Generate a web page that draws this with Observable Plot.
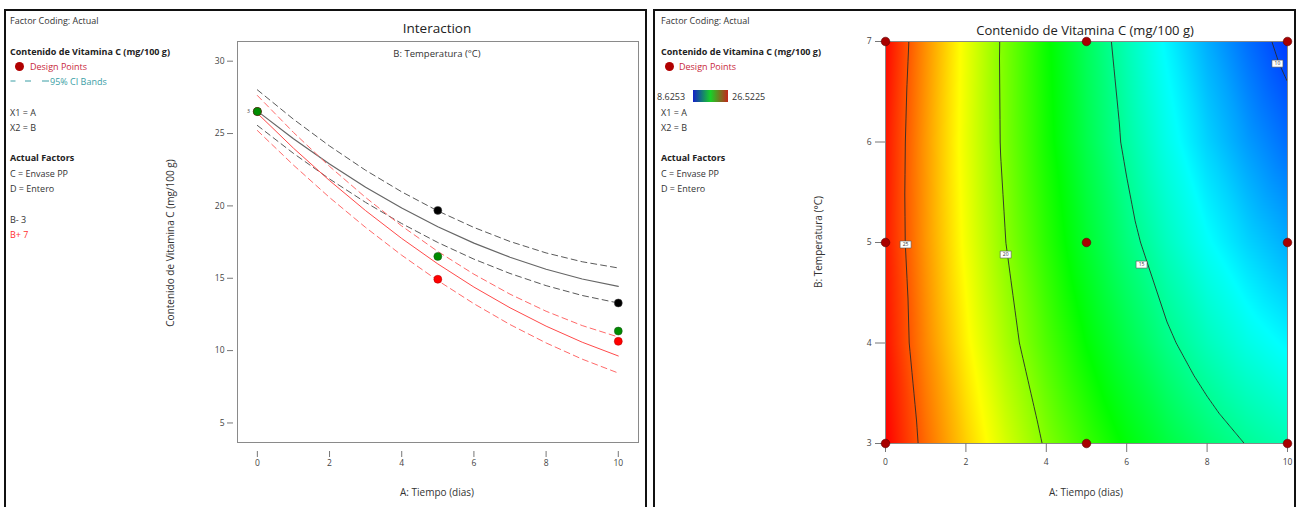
<!DOCTYPE html>
<html>
<head>
<meta charset="utf-8">
<script src="https://cdn.jsdelivr.net/npm/d3@7"></script>
<script src="https://cdn.jsdelivr.net/npm/@observablehq/plot@0.6"></script>
<style>
  body { margin: 0; background: #fff; font-family: "Open Sans", "Noto Sans", sans-serif; }
  #page { position: relative; width: 1305px; height: 507px; overflow: hidden; background: #fff; }
  .panel { position: absolute; border: 2px solid #111; box-sizing: border-box; background: transparent; pointer-events: none; }
  .t { position: absolute; white-space: nowrap; font-size: 9px; color: #333; line-height: 1; transform: translateY(-50%); }
  .b { font-weight: bold; color: #222; }
  .c { position: absolute; white-space: nowrap; transform: translate(-50%, -50%); line-height: 1; color: #333; }
  .r { position: absolute; white-space: nowrap; transform: translate(-50%, -50%) rotate(-90deg); line-height: 1; color: #333; }
  .plot { position: absolute; top: 0; }
  .dot { position: absolute; width: 9px; height: 9px; border-radius: 50%; background: #b00000; }
</style>
</head>
<body>
<div id="page">
  <!-- left panel legend -->
  <div class="t" style="left:10px;top:20px;">Factor Coding: Actual</div>
  <div class="t b" style="left:10px;top:51px;">Contenido de Vitamina C (mg/100 g)</div>
  <div class="dot" style="left:14.5px;top:61.5px;"></div>
  <div class="t" style="left:30px;top:66px;color:#c8283c;">Design Points</div>
  <svg style="position:absolute;left:0;top:76px;" width="60" height="10"><g stroke="#3a9ea5" stroke-width="1"><line x1="10.5" x2="15.5" y1="5" y2="5"/><line x1="25" x2="31" y1="5" y2="5"/><line x1="42" x2="49" y1="5" y2="5"/></g></svg>
  <div class="t" style="left:50px;top:81px;color:#3a9ea5;">95% CI Bands</div>
  <div class="t" style="left:10px;top:112px;">X1 = A</div>
  <div class="t" style="left:10px;top:127px;">X2 = B</div>
  <div class="t b" style="left:10px;top:157px;">Actual Factors</div>
  <div class="t" style="left:10px;top:173px;">C = Envase PP</div>
  <div class="t" style="left:10px;top:188px;">D = Entero</div>
  <div class="t" style="left:10px;top:219px;">B- 3</div>
  <div class="t" style="left:10px;top:234px;color:#ff3030;">B+ 7</div>

  <div class="c" style="left:437px;top:29px;font-size:13.5px;color:#222;">Interaction</div>
  <div class="c" style="left:437px;top:54px;font-size:9.5px;">B: Temperatura (°C)</div>
  <div class="c" style="left:437px;top:492px;font-size:10px;">A: Tiempo (dias)</div>
  <div class="r" style="left:170px;top:243px;font-size:10px;">Contenido de Vitamina C (mg/100 g)</div>

  <!-- right panel legend -->
  <div class="t" style="left:661px;top:20px;">Factor Coding: Actual</div>
  <div class="t b" style="left:661px;top:51px;">Contenido de Vitamina C (mg/100 g)</div>
  <div class="dot" style="left:664.5px;top:61.5px;"></div>
  <div class="t" style="left:679px;top:66px;color:#c8283c;">Design Points</div>
  <div class="t" style="left:657px;top:96px;">8.6253</div>
  <div style="position:absolute;left:693px;top:90px;width:35px;height:12px;background:linear-gradient(to right,#1420c8,#18d028 50%,#c4261a);"></div>
  <div class="t" style="left:732px;top:96px;">26.5225</div>
  <div class="t" style="left:661px;top:112px;">X1 = A</div>
  <div class="t" style="left:661px;top:127px;">X2 = B</div>
  <div class="t b" style="left:661px;top:157px;">Actual Factors</div>
  <div class="t" style="left:661px;top:173px;">C = Envase PP</div>
  <div class="t" style="left:661px;top:188px;">D = Entero</div>

  <div class="c" style="left:1085px;top:30px;font-size:13px;color:#222;">Contenido de Vitamina C (mg/100 g)</div>
  <div class="c" style="left:1086px;top:492px;font-size:10px;">A: Tiempo (dias)</div>
  <div class="r" style="left:818px;top:242px;font-size:10px;">B: Temperatura (°C)</div>

  <div id="left" class="plot" style="left:0px;"></div>
  <div id="right" class="plot" style="left:654px;"></div>

  <div class="panel" style="left:4px;top:9px;width:643px;height:520px;"></div>
  <div class="panel" style="left:653px;top:9px;width:643px;height:520px;"></div>
</div>
<script>
// ---------- DATA ----------
// A: Tiempo (dias)
const tiempo = [0, 1, 2, 3, 4, 5, 6, 7, 8, 9, 10];
// Interaction plot: predicted Vitamina C (mg/100 g) and 95% CI bands
const predB3  = [26.55, 24.64, 22.89, 21.29, 19.85, 18.56, 17.43, 16.45, 15.62, 14.95, 14.44];
const upperB3 = [28.02, 25.99, 24.14, 22.46, 20.97, 19.65, 18.51, 17.54, 16.75, 16.14, 15.71];
const lowerB3 = [25.56, 23.63, 21.86, 20.24, 18.78, 17.47, 16.32, 15.33, 14.49, 13.81, 13.29];
const predB7  = [26.40, 23.99, 21.75, 19.67, 17.75, 15.99, 14.39, 12.96, 11.69, 10.58, 9.63];
const upperB7 = [27.63, 25.08, 22.73, 20.58, 18.61, 16.85, 15.28, 13.90, 12.72, 11.73, 10.94];
const lowerB7 = [25.21, 22.82, 20.58, 18.51, 16.59, 14.84, 13.24, 11.80, 10.53, 9.41, 8.45];
// Design points on the interaction plot
const ptTiempo = [0, 5, 10];
const ptB3     = [26.52, 19.69, 13.29];
const ptB7     = [26.52, 14.93, 10.64];
const ptCentro = [26.52, 16.51, 11.35];
// Contour plot: B: Temperatura levels and response surface rows
const temperatura = [3, 4, 5, 6, 7];
const surface = [
  [26.55, 24.64, 22.89, 21.29, 19.85, 18.56, 17.43, 16.45, 15.62, 14.95, 14.44],
  [26.22, 24.15, 22.25, 20.52, 18.95, 17.54, 16.30, 15.21, 14.30, 13.55, 12.96],
  [26.08, 23.88, 21.85, 19.99, 18.30, 16.77, 15.41, 14.22, 13.20, 12.35, 11.66],
  [26.14, 23.83, 21.68, 19.71, 17.90, 16.25, 14.78, 13.47, 12.33, 11.36, 10.55],
  [26.40, 23.99, 21.75, 19.67, 17.75, 15.99, 14.39, 12.96, 11.69, 10.58, 9.63]
];
const designA = [0, 0, 0, 5, 5, 5, 10, 10, 10];
const designB = [3, 5, 7, 3, 5, 7, 3, 5, 7];
const contourLevels = [25, 20, 15, 10];
const labelA = [0.5, 2.99, 6.37, 9.75];
const labelB = [4.98, 4.88, 4.78, 6.78];
const colorMin = 8.6253, colorMax = 26.5225;
const xTicks = [0, 2, 4, 6, 8, 10];
const yTicksLeft = [5, 10, 15, 20, 25, 30];
const yTicksRight = [3, 4, 5, 6, 7];

// ---------- TABLES ----------
const series = (vals) => tiempo.map((a, i) => ({A: a, v: vals[i]}));
const pts = (vals) => ptTiempo.map((a, i) => ({A: a, v: vals[i]}));
const grid = [];
temperatura.forEach((b, j) => tiempo.forEach((a, i) => grid.push({A: a, B: b, v: surface[j][i]})));
const design = designA.map((a, i) => ({A: a, B: designB[i]}));
const labels = contourLevels.map((l, i) => ({A: labelA[i], B: labelB[i], t: String(l)}));

const font = {background: "transparent", fontFamily: "Open Sans, Noto Sans, sans-serif", fontSize: "8.5px"};

const leftPlot = Plot.plot({
  width: 647, height: 507,
  marginLeft: 237, marginRight: 9, marginTop: 41, marginBottom: 65,
  style: font,
  x: {domain: [-0.55, 10.56], label: null},
  y: {domain: [3.65, 31.36], label: null},
  marks: [
    Plot.frame({stroke: "#8a8a8a"}),
    Plot.axisX(xTicks, {tickSize: 6, dy: 9, tickPadding: 2, stroke: "#777", fill: "#444", tickFormat: "d", label: null}),
    Plot.axisY(yTicksLeft, {tickSize: 6, dx: -4, tickPadding: 3, stroke: "#777", fill: "#444", tickFormat: "d", label: null}),
    Plot.line(series(upperB3), {x: "A", y: "v", stroke: "#5a5a5a", strokeWidth: 1, strokeDasharray: "6,4"}),
    Plot.line(series(lowerB3), {x: "A", y: "v", stroke: "#5a5a5a", strokeWidth: 1, strokeDasharray: "6,4"}),
    Plot.line(series(predB3), {x: "A", y: "v", stroke: "#666", strokeWidth: 1.2}),
    Plot.line(series(upperB7), {x: "A", y: "v", stroke: "#ff6a6a", strokeWidth: 1, strokeDasharray: "6,4"}),
    Plot.line(series(lowerB7), {x: "A", y: "v", stroke: "#ff6a6a", strokeWidth: 1, strokeDasharray: "6,4"}),
    Plot.line(series(predB7), {x: "A", y: "v", stroke: "#ff4a4a", strokeWidth: 1}),
    Plot.dot(pts(ptB3), {x: "A", y: "v", r: 4, fill: "#000", stroke: "#444", strokeWidth: 0.5}),
    Plot.dot(pts(ptB7), {x: "A", y: "v", r: 4, fill: "#ff0000", stroke: "#a00", strokeWidth: 0.5}),
    Plot.dot(pts(ptCentro), {x: "A", y: "v", r: 4, fill: "#008c00", stroke: "#205020", strokeWidth: 0.5}),
    Plot.text([pts(ptCentro)[0]], {x: "A", y: "v", text: () => "3", dx: -9, fontSize: 5, fill: "#333"})
  ]
});
document.getElementById("left").appendChild(leftPlot);

const boxSymbol = {draw(ctx) { ctx.rect(-5.5, -3.5, 11, 7); }};

const rightPlot = Plot.plot({
  width: 645, height: 507,
  marginLeft: 231, marginRight: 12, marginTop: 41, marginBottom: 64,
  style: font,
  x: {domain: [0, 10], label: null},
  y: {domain: [3, 7], label: null},
  color: {type: "linear", domain: [colorMin, colorMax], clamp: true,
          interpolate: d3.piecewise(d3.interpolateRgb, ["#0000ff", "#00ffff", "#00ff00", "#ffff00", "#ff0000"])},
  marks: [
    Plot.raster(grid, {x: "A", y: "B", fill: "v", interpolate: "barycentric", x1: 0, x2: 10, y1: 3, y2: 7, pixelSize: 1}),
    Plot.contour(grid, {x: "A", y: "B", value: "v", interpolate: "barycentric", x1: 0, x2: 10, y1: 3, y2: 7,
                        thresholds: contourLevels, fill: "none", stroke: "#2a2a2a", strokeWidth: 0.9, pixelSize: 1}),
    Plot.frame({stroke: "#888"}),
    Plot.axisX(xTicks, {tickSize: 9, tickPadding: 6, stroke: "#777", fill: "#444", tickFormat: "d", label: null}),
    Plot.axisY(yTicksRight, {tickSize: 10, tickPadding: 4, stroke: "#777", fill: "#444", tickFormat: "d", label: null}),
    Plot.dot(labels, {x: "A", y: "B", symbol: boxSymbol, fill: "white", stroke: "#555", strokeWidth: 0.6}),
    Plot.text(labels, {x: "A", y: "B", text: "t", fontSize: 5, fill: "#333"}),
    Plot.dot(design, {x: "A", y: "B", r: 4.3, fill: "#a80000", stroke: "#5a0000", strokeWidth: 0.6})
  ]
});
document.getElementById("right").appendChild(rightPlot);
</script>
</body>
</html>
